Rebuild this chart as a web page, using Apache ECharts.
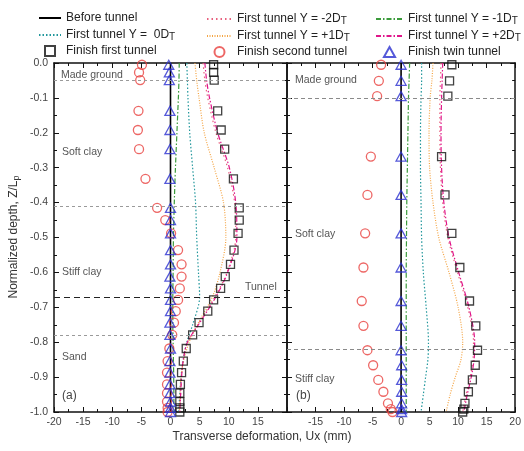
<!DOCTYPE html>
<html>
<head>
<meta charset="utf-8">
<script src="https://cdn.jsdelivr.net/npm/echarts@6/dist/echarts.min.js"></script>
<style>
  html, body { margin: 0; padding: 0; background: #fff; }
  #chart { width: 524px; height: 451px; }
</style>
</head>
<body>
<div id="chart"></div>
<script>
// measured points, panel (a)
var depthA = [-0.005, -0.027, -0.049, -0.137, -0.192, -0.247, -0.332, -0.415, -0.45, -0.488, -0.536, -0.577, -0.612,
  -0.646, -0.679, -0.711, -0.744, -0.779, -0.818, -0.854, -0.887, -0.921, -0.946, -0.97, -0.988, -1.0];
var firstA = [7.4, 7.4, 7.5, 8.1, 8.7, 9.3, 10.8, 11.8, 11.8, 11.6, 10.9, 10.3, 9.4, 8.6, 7.4, 6.4, 4.9, 3.8, 2.7,
  2.2, 1.9, 1.7, 1.6, 1.6, 1.6, 1.6];
var secondA = [-4.9, -5.4, -5.2, -5.5, -5.6, -5.4, -4.3, -2.3, -0.9, 0.1, 1.3, 1.9, 1.9, 1.6, 1.3, 0.9, 0.6, 0.3,
  -0.2, -0.5, -0.6, -0.6, -0.6, -0.6, -0.5, -0.5];
var twinA = [-0.3, -0.2, -0.2, -0.1, -0.1, -0.1, -0.1, 0, 0, 0, 0, 0, -0.1, 0, 0, 0, -0.1, -0.1, 0, -0.1, -0.1,
  -0.1, -0.1, 0, 0, 0];

// computed profiles, panel (a)
var lineDepthA = [0, -0.05, -0.1, -0.2, -0.3, -0.4, -0.5, -0.6, -0.67, -0.75, -0.8, -0.85, -0.9, -1.0];
var beforeA = [0, 0, 0, 0, 0, 0, 0, 0, 0, 0, 0, 0, 0, 0];
var ym2A = [5.6, 5.9, 6.4, 7.8, 9.8, 11.0, 11.2, 9.7, 7.6, 4.7, 2.9, 2.2, 1.9, 1.6];
var ym1A = [1.5, 1.45, 1.35, 1.1, 0.85, 0.65, 0.5, 0.45, 0.4, 0.4, 0.45, 0.5, 0.55, 0.6];
var y0A = [2.8, 2.9, 3.0, 3.3, 3.8, 4.3, 4.5, 4.8, 5.0, 3.8, 2.8, 2.2, 1.8, 1.4];
var yp1A = [4.2, 4.5, 4.9, 5.8, 7.5, 9.1, 9.5, 8.5, 7.2, 4.6, 3.2, 2.3, 1.8, 1.5];
var yp2A = [5.9, 6.2, 6.7, 8.1, 10.1, 11.2, 11.4, 9.8, 7.8, 4.8, 2.9, 2.2, 1.9, 1.6];

// measured points, panel (b)
var depthB = [-0.005, -0.051, -0.095, -0.268, -0.378, -0.488, -0.586, -0.682, -0.753, -0.823, -0.866, -0.908,
  -0.942, -0.975, -0.992, -1.0];
var firstB = [8.9, 8.5, 8.2, 7.1, 7.7, 8.9, 10.3, 12.0, 13.1, 13.4, 13.0, 12.5, 11.8, 11.2, 11.0, 10.8];
var secondB = [-3.5, -3.9, -4.2, -5.3, -5.9, -6.3, -6.6, -6.9, -6.6, -5.9, -4.9, -4.0, -3.1, -2.3, -1.8, -1.5];
var twinB = [0, 0, 0, 0, 0, 0, 0, 0, 0, 0, 0.1, 0.1, 0.1, 0.1, 0.1, 0.1];

// computed profiles, panel (b)
var lineDepthB = [0, -0.05, -0.1, -0.2, -0.3, -0.4, -0.5, -0.6, -0.7, -0.8, -0.85, -0.9, -0.95, -1.0];
var beforeB = [0, 0, 0, 0, 0, 0, 0, 0, 0, 0, 0, 0, 0, 0];
var ym2B = [7.0, 6.9, 6.8, 6.8, 6.9, 7.3, 8.2, 9.9, 11.7, 12.7, 12.6, 12.1, 11.4, 10.8];
var ym1B = [1.5, 1.4, 1.3, 1.2, 1.1, 1.0, 0.95, 0.9, 0.9, 0.9, 0.9, 0.9, 0.9, 0.9];
var y0B = [3.6, 3.6, 3.5, 3.4, 3.4, 3.5, 3.6, 3.9, 4.4, 4.8, 4.7, 4.3, 3.9, 3.5];
var yp1B = [5.6, 5.4, 5.1, 4.9, 5.0, 5.6, 6.6, 8.4, 10.0, 10.8, 10.5, 9.5, 8.6, 7.9];
var yp2B = [7.3, 7.2, 7.1, 7.0, 7.1, 7.5, 8.4, 10.1, 11.9, 12.9, 12.8, 12.3, 11.6, 11.0];

// layer boundaries
var layersA = [-0.049, -0.415, -0.777];
var tunnelA = [-0.672];
var layersB = [-0.096, -0.824];

var FONT = 'Liberation Sans';
var SQUARE = 'path://M0,0L10,0L10,10L0,10Z';
var TRIANGLE = 'path://M5,0L10,9L0,9Z';

function pairs(xs, ys) {
  return xs.map(function (v, i) { return [v, ys[i]]; });
}

var lineDefs = [
  { name: 'Before tunnel', color: '#000', type: 'solid', width: 1.6, a: beforeA, b: beforeB },
  { name: 'First tunnel Y = -2D_T', color: '#e8607e', type: [1.5, 3], width: 1.2, a: ym2A, b: ym2B },
  { name: 'First tunnel Y = -1D_T', color: '#3b9b3b', type: [5, 2, 1.5, 2], width: 1.2, a: ym1A, b: ym1B },
  { name: 'First tunnel Y =  0D_T', color: '#22979c', type: [1.5, 2], width: 1.2, a: y0A, b: y0B },
  { name: 'First tunnel Y = +1D_T', color: '#f4a545', type: [1, 1.5], width: 1.2, a: yp1A, b: yp1B },
  { name: 'First tunnel Y = +2D_T', color: '#e0168a', type: [5, 2, 1.5, 2], width: 1.2, a: yp2A, b: yp2B }
];

var pointDefs = [
  { name: 'Finish first tunnel', color: '#111', symbol: SQUARE, size: 8, a: firstA, b: firstB },
  { name: 'Finish second tunnel', color: '#e8413e', symbol: 'circle', size: 9, a: secondA, b: secondB },
  { name: 'Finish twin tunnel', color: '#2a2fd0', symbol: TRIANGLE, size: 10, a: twinA, b: twinB }
];

var series = [];

function refLines(values, color, type) {
  return {
    silent: true,
    symbol: 'none',
    label: { show: false },
    lineStyle: { color: color, type: type, width: 1.2 },
    data: values.map(function (v) { return { yAxis: v }; })
  };
}

[0, 1].forEach(function (p) {
  lineDefs.forEach(function (d, k) {
    var s = {
      name: d.name,
      type: 'line',
      xAxisIndex: p * 2,
      yAxisIndex: p * 2,
      data: pairs(p === 0 ? d.a : d.b, p === 0 ? lineDepthA : lineDepthB),
      smooth: 0.3,
      symbol: 'none',
      color: d.color,
      lineStyle: { color: d.color, type: d.type, width: d.width },
      z: 2
    };
    if (k === 0) {
      s.markLine = p === 0 ? refLines(layersA, '#9a9a9a', [3, 3]) : refLines(layersB, '#8a8a8a', [4, 3]);
    }
    if (k === 1 && p === 0) {
      s.markLine = refLines(tunnelA, '#222', [6, 4]);
    }
    series.push(s);
  });
  pointDefs.forEach(function (d) {
    series.push({
      name: d.name,
      type: 'scatter',
      xAxisIndex: p * 2,
      yAxisIndex: p * 2,
      data: pairs(p === 0 ? d.a : d.b, p === 0 ? depthA : depthB),
      symbol: d.symbol,
      symbolSize: d.size,
      symbolKeepAspect: true,
      clip: false,
      color: d.color,
      itemStyle: { color: 'transparent', borderColor: d.color, borderWidth: 1.3 },
      z: 3
    });
  });
});

function xAxisDef(grid, pos, labels, hideMin, hideMax) {
  return {
    type: 'value',
    gridIndex: grid,
    position: pos,
    min: -20,
    max: 20,
    interval: 5,
    axisLine: { show: true, onZero: false, lineStyle: { color: '#111', width: 1.5 } },
    axisTick: { show: true, inside: true, length: 5, lineStyle: { color: '#111' } },
    minorTick: { show: true, splitNumber: 2, length: 3, lineStyle: { color: '#111' } },
    splitLine: { show: false },
    axisLabel: {
      show: labels,
      showMinLabel: !hideMin,
      showMaxLabel: !hideMax,
      color: '#444',
      fontFamily: FONT,
      fontSize: 10.5,
      margin: 5
    }
  };
}

function yAxisDef(grid, pos, labels) {
  return {
    type: 'value',
    gridIndex: grid,
    position: pos,
    min: -1,
    max: 0,
    interval: 0.1,
    axisLine: { show: true, onZero: false, lineStyle: { color: '#111', width: 1.5 } },
    axisTick: { show: true, inside: true, length: 5, lineStyle: { color: '#111' } },
    minorTick: { show: true, splitNumber: 2, length: 3, lineStyle: { color: '#111' } },
    splitLine: { show: false },
    axisLabel: {
      show: labels,
      color: '#444',
      fontFamily: FONT,
      fontSize: 10.5,
      margin: 6,
      formatter: function (v) { return v.toFixed(1); }
    }
  };
}

// line entries hide the marker the line legend icon always draws
function legendCol(left, width, names) {
  return {
    left: left,
    top: 11,
    padding: 0,
    orient: 'vertical',
    itemGap: 2,
    itemWidth: width,
    itemHeight: 10,
    data: names.map(function (n) {
      var isLine = lineDefs.some(function (d) { return d.name === n; });
      return isLine ? { name: n, itemStyle: { opacity: 0 } } : { name: n };
    }),
    formatter: function (n) {
      return n.replace('_T', '{s|T}');
    },
    textStyle: {
      fontFamily: FONT,
      fontSize: 12,
      lineHeight: 14,
      color: '#222',
      rich: {
        s: { fontFamily: FONT, fontSize: 10, lineHeight: 14, color: '#222', verticalAlign: 'bottom', padding: [5, 0, 0, 0] }
      }
    }
  };
}

function label(x, y, text) {
  return {
    type: 'text',
    left: x,
    top: y,
    style: { text: text, fill: '#555', font: '10.5px ' + FONT }
  };
}

var option = {
  animation: false,
  backgroundColor: '#fff',
  grid: [
    { left: 54, top: 63, width: 233, height: 349 },
    { left: 287, top: 63, width: 231, height: 349 }
  ],
  xAxis: [
    xAxisDef(0, 'bottom', true, false, true),
    xAxisDef(0, 'top', false, false, false),
    xAxisDef(1, 'bottom', true, true, false),
    xAxisDef(1, 'top', false, false, false)
  ],
  yAxis: [
    yAxisDef(0, 'left', true),
    yAxisDef(0, 'right', false),
    yAxisDef(1, 'left', false),
    yAxisDef(1, 'right', false)
  ],
  legend: [
    legendCol(38, 22, ['Before tunnel', 'First tunnel Y =  0D_T', 'Finish first tunnel']),
    legendCol(206, 25, ['First tunnel Y = -2D_T', 'First tunnel Y = +1D_T', 'Finish second tunnel']),
    legendCol(375, 27, ['First tunnel Y = -1D_T', 'First tunnel Y = +2D_T', 'Finish twin tunnel'])
  ],
  graphic: [
    label(61, 70, 'Made ground'),
    label(62, 147, 'Soft clay'),
    label(62, 267, 'Stiff clay'),
    label(245, 282, 'Tunnel'),
    label(62, 352, 'Sand'),
    { type: 'text', left: 62, top: 390, style: { text: '(a)', fill: '#444', font: '12px ' + FONT } },
    label(295, 75, 'Made ground'),
    label(295, 229, 'Soft clay'),
    label(295, 374, 'Stiff clay'),
    { type: 'text', left: 296, top: 390, style: { text: '(b)', fill: '#444', font: '12px ' + FONT } },
    {
      type: 'text',
      left: 'center',
      top: 431,
      style: { text: 'Transverse deformation, Ux (mm)', fill: '#333', font: '12px ' + FONT }
    },
    {
      type: 'text',
      x: 14,
      y: 237,
      rotation: Math.PI / 2,
      style: {
        text: 'Normalized depth, Z/L{s|p}',
        fill: '#333',
        font: '12px ' + FONT,
        align: 'center',
        verticalAlign: 'middle',
        rich: {
          s: { fill: '#333', font: '9px ' + FONT, padding: [6, 0, 0, 0] }
        }
      }
    }
  ],
  series: series
};

var myChart = echarts.init(document.getElementById('chart'));
myChart.setOption(option);
window.addEventListener('resize', myChart.resize);
</script>
</body>
</html>
